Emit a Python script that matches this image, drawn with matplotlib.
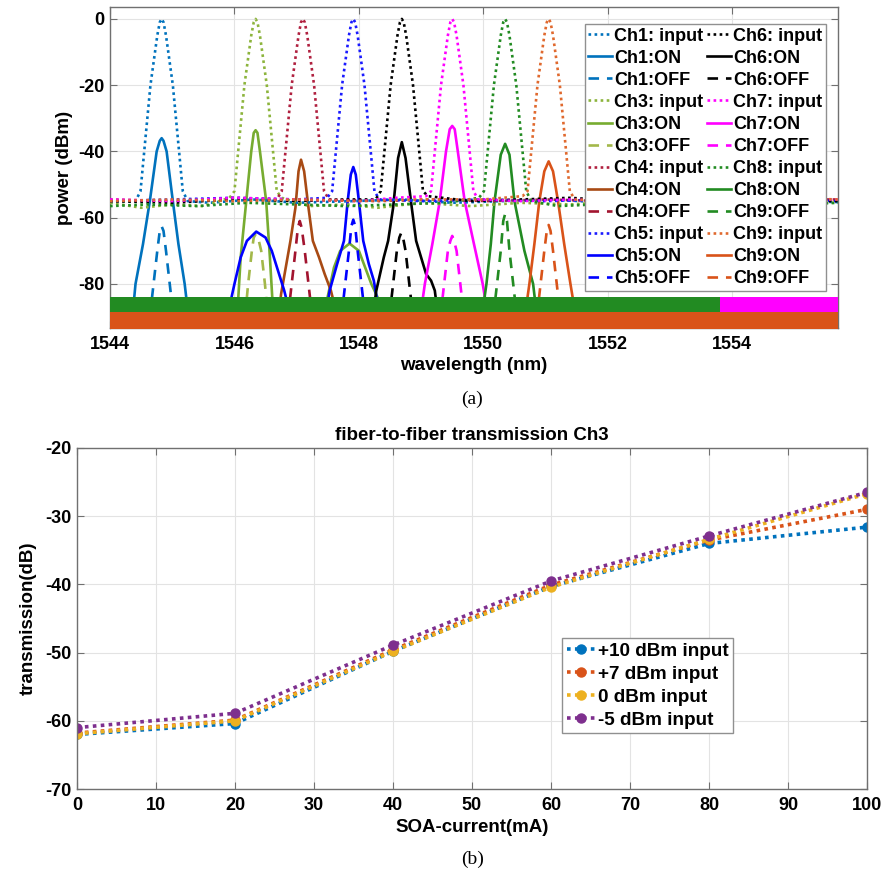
import matplotlib
matplotlib.use("Agg")
import matplotlib.pyplot as plt

plt.rcParams['font.family'] = ['Liberation Sans', 'DejaVu Sans']
plt.rcParams['font.weight'] = 'bold'
plt.rcParams['axes.unicode_minus'] = False

# ---------------- (a) spectra data ----------------
in1_x = [1544.0, 1544.2, 1544.41, 1544.49, 1544.55, 1544.65, 1544.76, 1544.80, 1544.83, 1544.86, 1544.90, 1545.01, 1545.11, 1545.17, 1545.25, 1545.6, 1546.3, 1547.0, 1547.9, 1548.7, 1549.5, 1550.3, 1551.1, 1552.0, 1553.0, 1554.0, 1555.0, 1555.7]
in1_y = [-55.5, -55.0, -55.0, -52, -40, -20, -5, -1, 0, -1, -5, -20, -40, -52, -55, -55.5, -54.5, -55.5, -55.0, -54.5, -55.5, -55.0, -54.5, -55.5, -55.0, -55.5, -55.0, -55.3]
in3_x = [1544.0, 1544.5, 1545.0, 1545.5, 1545.92, 1546.00, 1546.06, 1546.16, 1546.27, 1546.31, 1546.34, 1546.37, 1546.41, 1546.52, 1546.62, 1546.68, 1546.76, 1547.2, 1547.8, 1548.3, 1549.0, 1549.8, 1550.6, 1551.4, 1552.2, 1553.0, 1554.0, 1555.0, 1555.7]
in3_y = [-55.5, -57.0, -56.0, -56.5, -54.0, -52, -40, -20, -5, -1, 0, -1, -5, -20, -40, -52, -54, -56.5, -56.0, -57.0, -55.5, -56.5, -55.5, -56.0, -55.0, -55.5, -56.0, -55.5, -55.5]
in4_x = [1544.0, 1545.0, 1546.0, 1546.68, 1546.76, 1546.82, 1546.92, 1547.03, 1547.07, 1547.10, 1547.13, 1547.17, 1547.28, 1547.38, 1547.44, 1547.52, 1548.3, 1549.2, 1550.1, 1551.0, 1552.0, 1553.0, 1554.0, 1555.0, 1555.7]
in4_y = [-54.5, -55.0, -54.0, -54.5, -52, -40, -20, -5, -1, 0, -1, -5, -20, -40, -52, -54.5, -55.0, -54.5, -55.0, -54.5, -55.0, -54.5, -55.0, -54.5, -54.5]
in5_x = [1544.0, 1545.0, 1546.0, 1547.0, 1547.49, 1547.57, 1547.63, 1547.73, 1547.84, 1547.88, 1547.91, 1547.94, 1547.98, 1548.09, 1548.19, 1548.25, 1548.33, 1549.0, 1550.0, 1551.0, 1552.0, 1553.0, 1554.0, 1555.0, 1555.7]
in5_y = [-55.0, -54.5, -54.0, -54.5, -54.0, -52, -40, -20, -5, -1, 0, -1, -5, -20, -40, -52, -54.5, -55.0, -54.5, -55.0, -54.5, -55.5, -55.0, -54.5, -55.0]
in6_x = [1544.0, 1545.0, 1546.0, 1547.0, 1547.8, 1548.27, 1548.35, 1548.41, 1548.51, 1548.62, 1548.66, 1548.69, 1548.72, 1548.76, 1548.87, 1548.97, 1549.03, 1549.11, 1549.8, 1550.6, 1551.4, 1552.2, 1553.0, 1554.0, 1555.0, 1555.7]
in6_y = [-55.0, -55.5, -54.5, -55.0, -54.5, -54.5, -52, -40, -20, -5, -1, 0, -1, -5, -20, -40, -52, -53.5, -55.0, -54.5, -54.0, -55.0, -55.5, -55.0, -55.0, -55.0]
in7_x = [1544.0, 1545.0, 1546.0, 1547.0, 1548.0, 1548.6, 1549.08, 1549.16, 1549.22, 1549.32, 1549.43, 1549.47, 1549.50, 1549.53, 1549.57, 1549.68, 1549.78, 1549.84, 1549.92, 1550.6, 1551.4, 1552.2, 1553.0, 1554.0, 1555.0, 1555.7]
in7_y = [-54.5, -55.0, -54.0, -54.5, -55.0, -54.0, -53.5, -52, -40, -20, -5, -1, 0, -1, -5, -20, -40, -52, -54.5, -55.0, -54.5, -55.0, -55.0, -54.5, -54.5, -54.5]
in8_x = [1544.0, 1544.6, 1545.4, 1546.2, 1547.0, 1547.8, 1548.6, 1549.4, 1549.93, 1550.01, 1550.07, 1550.17, 1550.28, 1550.32, 1550.35, 1550.38, 1550.42, 1550.53, 1550.63, 1550.69, 1550.77, 1551.2, 1551.8, 1552.6, 1553.4, 1554.2, 1555.0, 1555.7]
in8_y = [-56.5, -56.0, -56.5, -55.5, -56.0, -56.5, -56.0, -55.5, -54.0, -52, -40, -20, -5, -1, 0, -1, -5, -20, -40, -52, -55, -56.5, -56.0, -55.5, -56.0, -55.5, -56.0, -55.5]
in9_x = [1544.0, 1545.0, 1546.0, 1547.0, 1548.0, 1549.0, 1550.0, 1550.63, 1550.71, 1550.77, 1550.87, 1550.98, 1551.02, 1551.05, 1551.08, 1551.12, 1551.23, 1551.33, 1551.39, 1551.47, 1552.0, 1553.0, 1554.0, 1554.8, 1555.7]
in9_y = [-55.0, -54.5, -55.0, -54.5, -55.0, -54.5, -54.5, -53.5, -52, -40, -20, -5, -1, 0, -1, -5, -20, -40, -52, -54.5, -55.0, -54.5, -55.0, -54.0, -54.5]

on1_x = [1544.37, 1544.41, 1544.53, 1544.64, 1544.75, 1544.80, 1544.83, 1544.86, 1544.91, 1545.01, 1545.10, 1545.20, 1545.25]
on1_y = [-88, -80, -68, -55, -40, -36.8, -36, -36.8, -40, -55, -68, -80, -88]
on3_x = [1546.05, 1546.10, 1546.19, 1546.27, 1546.31, 1546.34, 1546.37, 1546.41, 1546.51, 1546.57, 1546.62, 1547.0, 1547.45, 1547.52, 1547.6, 1547.7, 1547.85, 1548.0, 1548.1, 1548.2, 1548.3, 1548.38]
on3_y = [-88, -72, -55, -40, -34.4, -33.6, -34.4, -40, -55, -72, -88, -89, -88, -82, -75, -70, -67.8, -70, -75, -80, -84, -88]
on4_x = [1546.72, 1546.75, 1546.90, 1546.98, 1547.03, 1547.07, 1547.12, 1547.19, 1547.26, 1547.36, 1547.45, 1547.55, 1547.63]
on4_y = [-88, -83, -67, -57, -46, -42.5, -46, -57, -67, -72, -77, -82, -88]
on5_x = [1545.90, 1545.93, 1546.0, 1546.1, 1546.2, 1546.35, 1546.5, 1546.6, 1546.7, 1546.8, 1546.88, 1547.2, 1547.48, 1547.53, 1547.65, 1547.76, 1547.82, 1547.87, 1547.91, 1547.95, 1548.0, 1548.07, 1548.16, 1548.24, 1548.32]
on5_y = [-89, -86, -80, -72, -67, -64.2, -66, -70, -76, -82, -88, -89, -88, -82, -74, -67, -55, -47, -44.7, -47, -55, -67, -74, -79, -88]
on6_x = [1548.22, 1548.28, 1548.40, 1548.47, 1548.55, 1548.63, 1548.69, 1548.75, 1548.85, 1548.92, 1549.00, 1549.08, 1549.16, 1549.22, 1549.28]
on6_y = [-90, -82, -72, -67, -57, -42, -37.2, -42, -57, -67, -72, -77, -79, -82, -91]
on7_x = [1549.00, 1549.06, 1549.18, 1549.30, 1549.40, 1549.46, 1549.50, 1549.54, 1549.59, 1549.70, 1549.85, 1549.99, 1550.06]
on7_y = [-88, -80, -68, -55, -40, -33.3, -32.3, -33.3, -40, -55, -68, -80, -88]
on8_x = [1549.99, 1550.05, 1550.12, 1550.18, 1550.28, 1550.35, 1550.42, 1550.50, 1550.66, 1550.80, 1550.85]
on8_y = [-88, -80, -68, -55, -41, -37.7, -41, -55, -70, -80, -88]
on9_x = [1550.68, 1550.74, 1550.82, 1550.90, 1550.98, 1551.05, 1551.12, 1551.20, 1551.30, 1551.40, 1551.47]
on9_y = [-88, -80, -68, -55, -46, -43, -46, -55, -68, -80, -88]

off1_x = [1544.64, 1544.70, 1544.76, 1544.80, 1544.83, 1544.86, 1544.90, 1544.96, 1545.02]
off1_y = [-90, -80, -70, -64, -62.6, -64, -70, -80, -90]
off3_x = [1546.17, 1546.22, 1546.28, 1546.31, 1546.34, 1546.38, 1546.43, 1546.49, 1546.54]
off3_y = [-90, -80, -70, -66, -65.0, -66, -70, -80, -90]
off4_x = [1546.86, 1546.92, 1546.98, 1547.02, 1547.05, 1547.08, 1547.13, 1547.19, 1547.25]
off4_y = [-90, -80, -70, -63, -61.0, -63, -70, -80, -90]
off5_x = [1547.72, 1547.78, 1547.84, 1547.88, 1547.91, 1547.94, 1547.98, 1548.04, 1548.10]
off5_y = [-90, -80, -70, -62.5, -60.6, -62.5, -70, -80, -90]
off6_x = [1548.49, 1548.55, 1548.61, 1548.65, 1548.68, 1548.71, 1548.75, 1548.81, 1548.87]
off6_y = [-90, -80, -70, -66, -64.6, -66, -70, -80, -90]
off7_x = [1549.31, 1549.37, 1549.43, 1549.47, 1549.50, 1549.53, 1549.57, 1549.63, 1549.69]
off7_y = [-90, -80, -70, -67, -65.5, -67, -70, -80, -90]
off8_x = [1550.16, 1550.22, 1550.28, 1550.32, 1550.35, 1550.38, 1550.42, 1550.48, 1550.54]
off8_y = [-90, -80, -70, -61, -58.9, -61, -70, -80, -90]
off9_x = [1550.86, 1550.92, 1550.98, 1551.02, 1551.05, 1551.08, 1551.12, 1551.18, 1551.24]
off9_y = [-90, -80, -70, -64, -62.2, -64, -70, -80, -90]

# noise floor bands (read approx.)
noise_x = [1544.0, 1553.8]
noise_green_top = [-84.0, -84.0]
noise_green_bot = [-91.0, -91.0]
noise_right_x = [1553.8, 1555.7]
noise_mag_top = [-84.0, -84.0]
noise_orange_x = [1544.0, 1555.7]
noise_orange_top = [-88.5, -88.5]
noise_floor = [-93.5, -93.5]

labels_a = ["Ch1: input", "Ch1:ON", "Ch1:OFF", "Ch3: input", "Ch3:ON", "Ch3:OFF",
            "Ch4: input", "Ch4:ON", "Ch4:OFF", "Ch5: input", "Ch5:ON", "Ch5:OFF",
            "Ch6: input", "Ch6:ON", "Ch6:OFF", "Ch7: input", "Ch7:ON", "Ch7:OFF",
            "Ch8: input", "Ch8:ON", "Ch9:OFF", "Ch9: input", "Ch9:ON", "Ch9:OFF"]

# ---------------- (b) transmission data ----------------
current = [0, 20, 40, 60, 80, 100]
t_p10 = [-62.0, -60.4, -49.8, -40.3, -34.0, -31.6]
t_p7 = [-61.8, -59.9, -49.6, -40.1, -33.5, -29.0]
t_0 = [-61.9, -60.0, -49.8, -40.4, -33.4, -26.7]
t_m5 = [-61.0, -58.9, -48.9, -39.5, -32.9, -26.5]
labels_b = ["+10 dBm input", "+7 dBm input", "0 dBm input", "-5 dBm input"]

# ---------------- figure ----------------
fig = plt.figure(figsize=(8.86, 8.76), dpi=100)
axA = fig.add_axes([110/886, 1-328/876, 728/886, 321/876])
axB = fig.add_axes([77/886, 1-789/876, 790/886, 341/876])

dot = (0, (1.0, 1.3))
dash = (0, (4.0, 3.0))
lw = 1.9

chans = [
    ("#0072BD", "#0072BD", "#0072BD", in1_x, in1_y, on1_x, on1_y, off1_x, off1_y),
    ("#8CB43C", "#77AC30", "#A3B84A", in3_x, in3_y, on3_x, on3_y, off3_x, off3_y),
    ("#B0203F", "#A84A14", "#A2142F", in4_x, in4_y, on4_x, on4_y, off4_x, off4_y),
    ("#1A1AFF", "#0000FF", "#0000FF", in5_x, in5_y, on5_x, on5_y, off5_x, off5_y),
    ("#000000", "#000000", "#000000", in6_x, in6_y, on6_x, on6_y, off6_x, off6_y),
    ("#FF00FF", "#FF00FF", "#FF00FF", in7_x, in7_y, on7_x, on7_y, off7_x, off7_y),
    ("#228B22", "#228B22", "#228B22", in8_x, in8_y, on8_x, on8_y, off8_x, off8_y),
    ("#E0692E", "#D95319", "#D95319", in9_x, in9_y, on9_x, on9_y, off9_x, off9_y),
]
handles = []
for ci, co, cf, ix, iy, ox, oy, fx, fy in chans:
    h1, = axA.plot(ix, iy, color=ci, lw=lw, ls=dot, zorder=3)
    h2, = axA.plot(ox, oy, color=co, lw=lw, ls='-', zorder=2)
    h3, = axA.plot(fx, fy, color=cf, lw=lw, ls=dash, zorder=2)
    handles += [h1, h2, h3]

axA.fill_between(noise_x, noise_green_bot, noise_green_top, color="#228B22", lw=0, zorder=4)
axA.fill_between(noise_right_x, noise_green_bot, noise_mag_top, color="#FF00FF", lw=0, zorder=4)
axA.fill_between(noise_orange_x, noise_floor, noise_orange_top, color="#D95319", lw=0, zorder=5)

axA.set_xlim(1544, 1555.7)
axA.set_ylim(-93.3, 3.6)
axA.set_xticks([1544, 1546, 1548, 1550, 1552, 1554])
axA.set_yticks([-80, -60, -40, -20, 0])
axA.set_xlabel("wavelength (nm)", fontsize=13.5, fontweight='bold', labelpad=3)
axA.set_ylabel("power (dBm)", fontsize=13.5, fontweight='bold', labelpad=4)
leg = axA.legend(handles, labels_a, ncol=2, loc='upper right',
                 bbox_to_anchor=(0.9835, 0.947), borderaxespad=0,
                 prop={'family': 'Liberation Sans', 'weight': 'bold', 'size': 13.0},
                 handlelength=1.3, handletextpad=0.15, columnspacing=0.2,
                 labelspacing=0.28, borderpad=0.2, fancybox=False, framealpha=1,
                 edgecolor='#909090')
leg.get_frame().set_linewidth(1.0)
leg.set_zorder(10)

axB.plot(current, t_p10, color="#0072BD", ls=(0, (1.0, 1.2)), lw=2.6, marker='o', ms=6.5, label=labels_b[0])
axB.plot(current, t_p7, color="#D95319", ls=(0, (1.0, 1.2)), lw=2.6, marker='o', ms=6.5, label=labels_b[1])
axB.plot(current, t_0, color="#EDB120", ls=(0, (1.0, 1.2)), lw=2.6, marker='o', ms=6.5, label=labels_b[2])
axB.plot(current, t_m5, color="#7E2F8E", ls=(0, (1.0, 1.2)), lw=2.6, marker='o', ms=6.5, label=labels_b[3])
axB.set_xlim(0, 100)
axB.set_ylim(-70, -20)
axB.set_xticks(range(0, 101, 10))
axB.set_yticks(range(-70, -19, 10))
axB.set_xlabel("SOA-current(mA)", fontsize=13.5, fontweight='bold', labelpad=3)
axB.set_ylabel("transmission(dB)", fontsize=13.5, fontweight='bold', labelpad=6)
axB.set_title("fiber-to-fiber transmission Ch3", fontsize=13.5, fontweight='bold', pad=6)
legB = axB.legend(loc='upper left', bbox_to_anchor=(0.614, 0.443), borderaxespad=0,
                  prop={'family': 'Liberation Sans', 'weight': 'bold', 'size': 13.6},
                  handlelength=1.5, handletextpad=0.15, numpoints=1, labelspacing=0.3,
                  borderpad=0.25, fancybox=False, framealpha=1, edgecolor='#909090')
legB.get_frame().set_linewidth(1.0)

for ax in (axA, axB):
    ax.grid(True, color='#E3E3E3', lw=0.8, zorder=0)
    ax.set_axisbelow(True)
    for s in ax.spines.values():
        s.set_color('#707070')
        s.set_linewidth(1.0)
    ax.tick_params(direction='in', length=5, width=0.8, color='#707070',
                   top=True, right=True, labelsize=13)
    ax.tick_params(axis='y', pad=4)
    ax.tick_params(axis='x', pad=6)
    for t in ax.get_xticklabels() + ax.get_yticklabels():
        t.set_fontweight('bold')

fig.text(0.533, 1-399/876, "(a)", ha='center', va='center', fontsize=14,
         family='Liberation Serif', fontweight='normal')
fig.text(0.533, 1-859/876, "(b)", ha='center', va='center', fontsize=14,
         family='Liberation Serif', fontweight='normal')

fig.savefig("out.png", dpi=100)
